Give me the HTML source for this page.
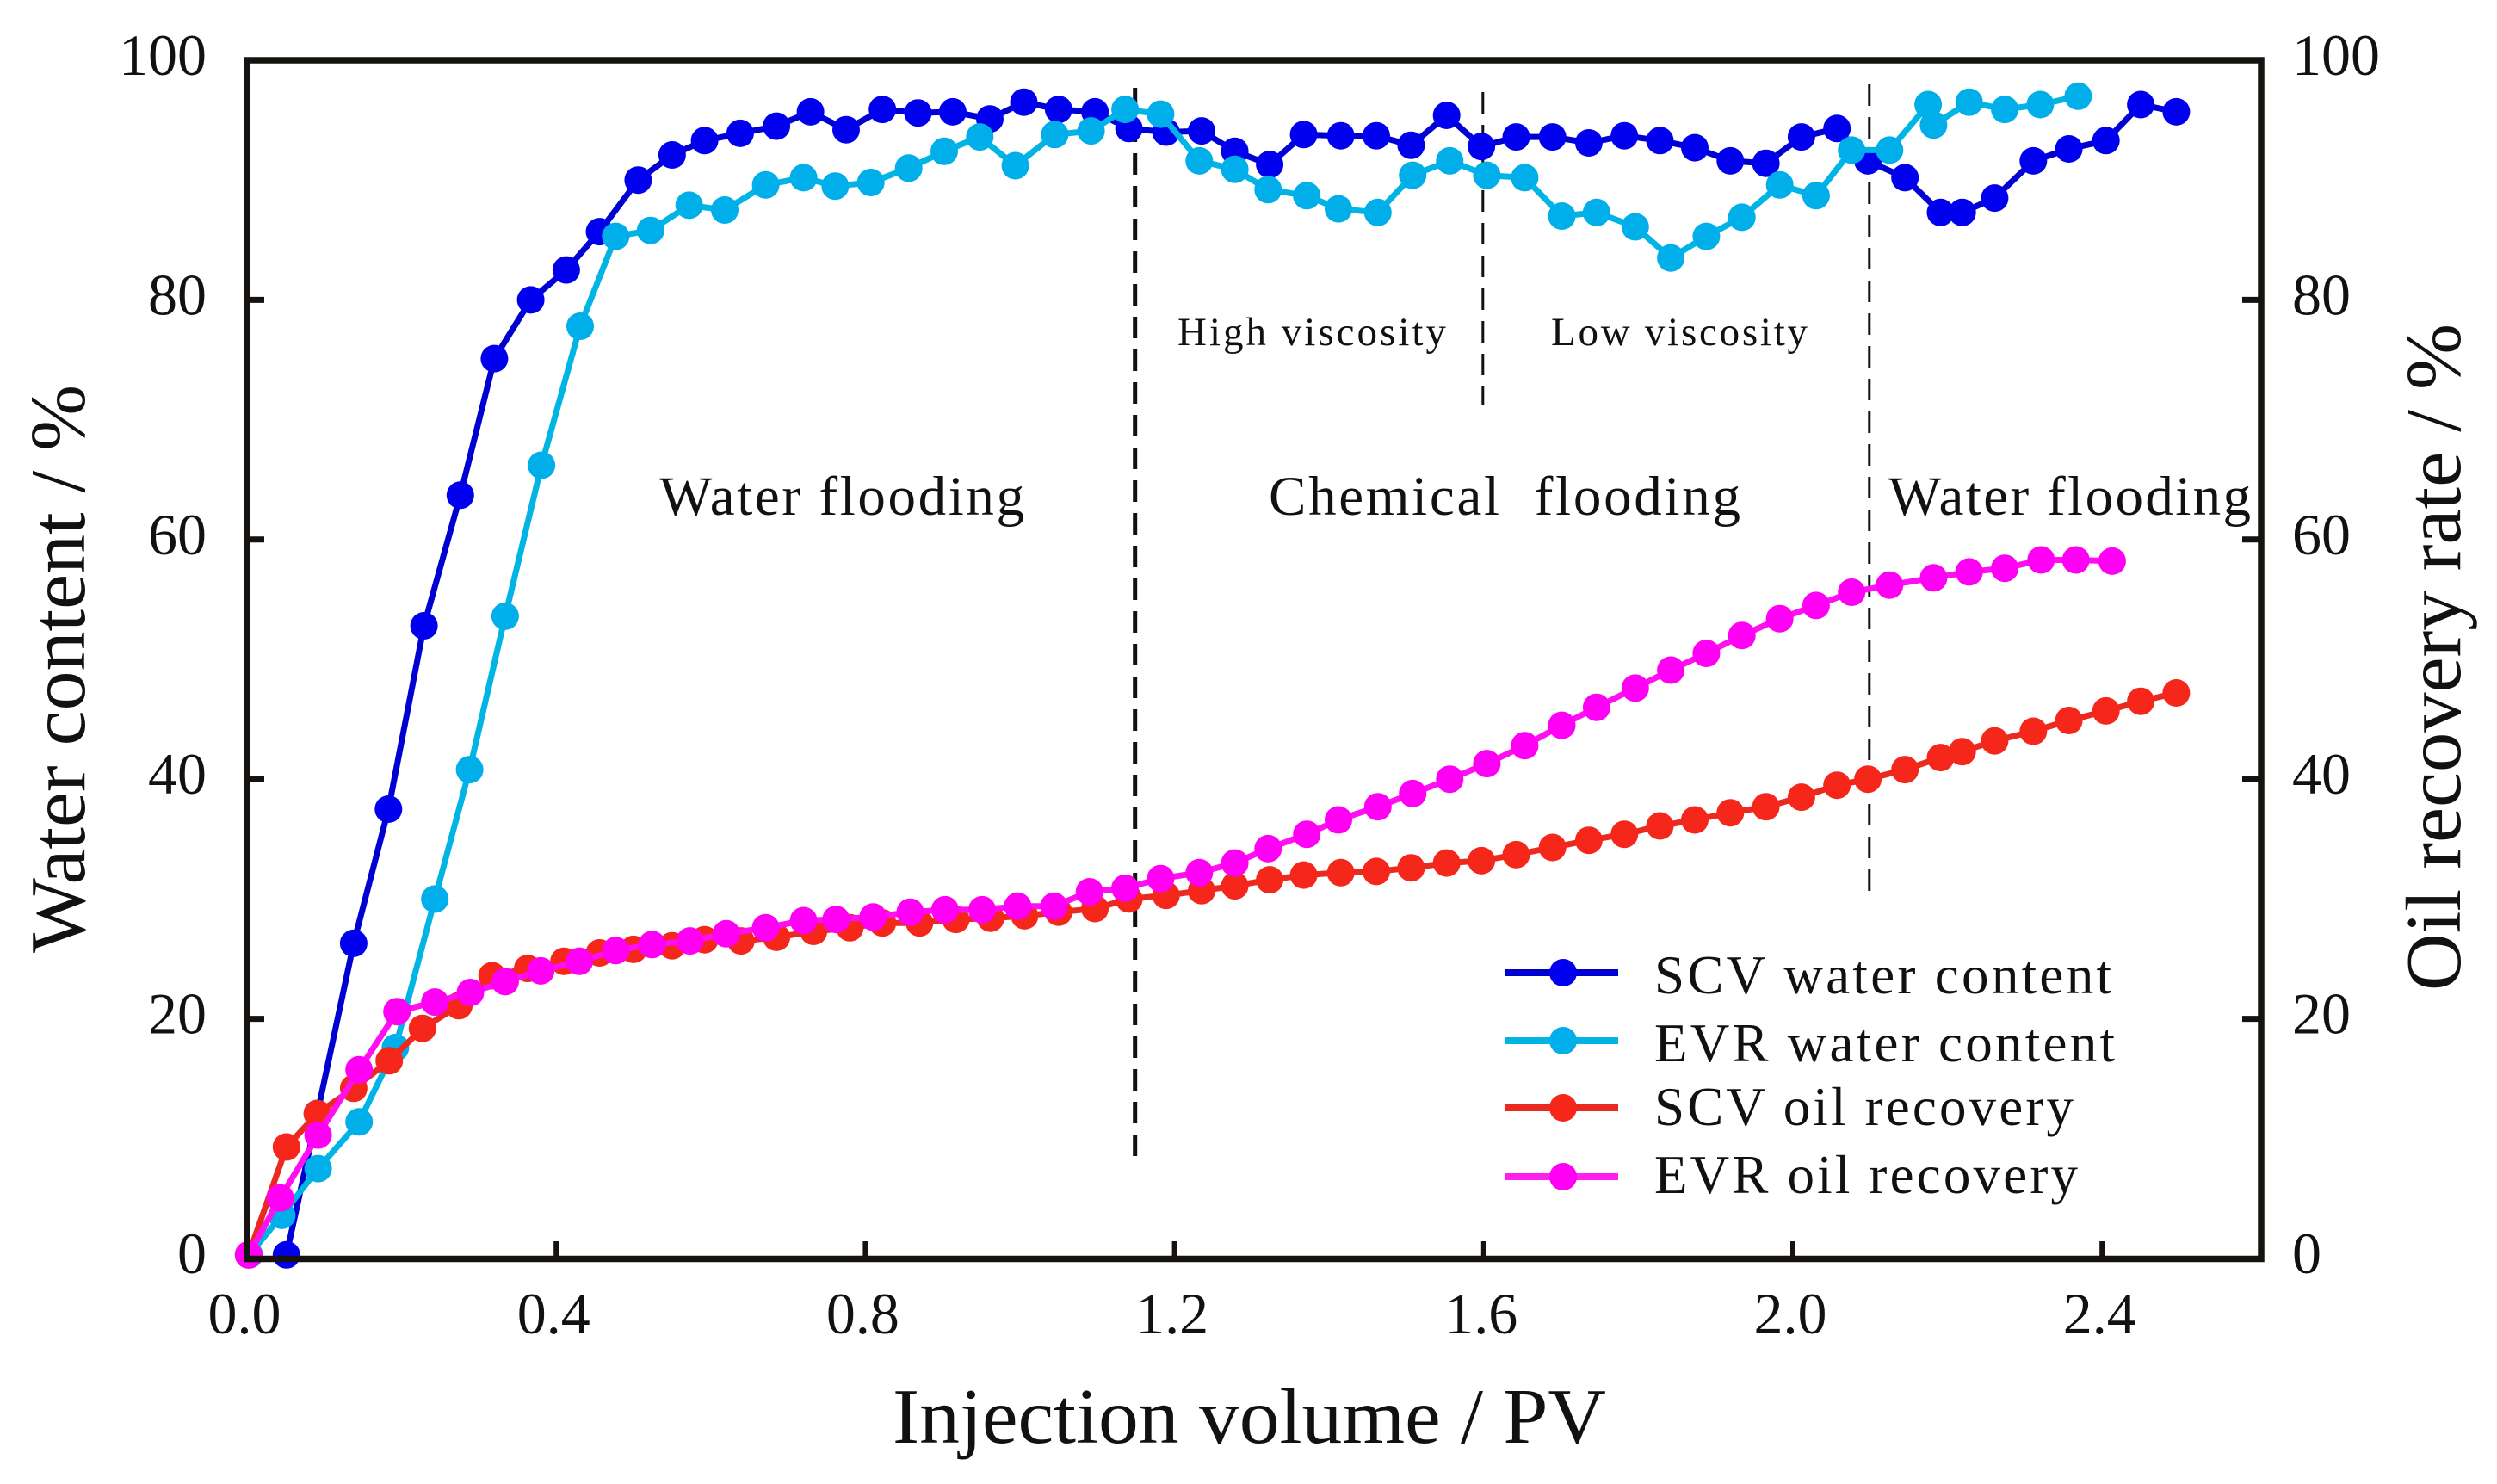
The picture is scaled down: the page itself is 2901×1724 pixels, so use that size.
<!DOCTYPE html>
<html lang="en">
<head>
<meta charset="utf-8">
<title>Water content and oil recovery versus injection volume</title>
<style>
html,body{margin:0;padding:0;background:#fff;}
svg{display:block;}
text{font-family:"Liberation Serif",serif;fill:#111;}
</style>
</head>
<body>
<svg id="chart" xmlns="http://www.w3.org/2000/svg" width="2901" height="1724" viewBox="0 0 2901 1724">
  <rect x="0" y="0" width="2901" height="1724" fill="#fff"/>

  <g id="dividers"></g>
  <g id="series"></g>

  <rect x="287" y="70" width="2340" height="1392.5" fill="none" stroke="#15120f" stroke-width="7.5"/>
  <g id="ticks"></g>

  <text transform="translate(98,1107) rotate(-90)" font-size="91" textLength="660" lengthAdjust="spacingAndGlyphs">Water content / %</text>
  <text transform="translate(2858,1151) rotate(-90)" font-size="91" textLength="775" lengthAdjust="spacingAndGlyphs">Oil recovery rate / %</text>
  <text x="1037" y="1676" font-size="91" textLength="829" lengthAdjust="spacingAndGlyphs">Injection volume / PV</text>

  <text x="766" y="598" font-size="65" textLength="424" lengthAdjust="spacing">Water flooding</text>
  <text x="1474" y="598" font-size="65" textLength="548" lengthAdjust="spacing" xml:space="preserve">Chemical  flooding</text>
  <text x="2194" y="598" font-size="65" textLength="421" lengthAdjust="spacing">Water flooding</text>
  <text x="1368" y="401" font-size="47" textLength="312" lengthAdjust="spacing">High viscosity</text>
  <text x="1802" y="401" font-size="47" textLength="298" lengthAdjust="spacing">Low viscosity</text>

  <g id="legend">
    <g>
      <line x1="1749" x2="1880" y1="1130" y2="1130" stroke="#0000d0" stroke-width="8"/>
      <circle cx="1816" cy="1130" r="16" fill="#0000ee"/>
      <text x="1922" y="1154" font-size="63" textLength="531" lengthAdjust="spacing">SCV water content</text>
    </g>
    <g>
      <line x1="1749" x2="1880" y1="1209" y2="1209" stroke="#00b4e4" stroke-width="8"/>
      <circle cx="1816" cy="1209" r="16" fill="#00aeea"/>
      <text x="1922" y="1233" font-size="63" textLength="535" lengthAdjust="spacing">EVR water content</text>
    </g>
    <g>
      <line x1="1749" x2="1880" y1="1287" y2="1287" stroke="#ea2a20" stroke-width="8"/>
      <circle cx="1816" cy="1287" r="16" fill="#f5261a"/>
      <text x="1922" y="1307" font-size="63" textLength="487" lengthAdjust="spacing">SCV oil recovery</text>
    </g>
    <g>
      <line x1="1749" x2="1880" y1="1367" y2="1367" stroke="#ff20f0" stroke-width="8"/>
      <circle cx="1816" cy="1367" r="16" fill="#ff00f4"/>
      <text x="1922" y="1386" font-size="63" textLength="492" lengthAdjust="spacing">EVR oil recovery</text>
    </g>
  </g>
</svg>

<script>
const xTickLabels = ["0.0", "0.4", "0.8", "1.2", "1.6", "2.0", "2.4"];
const yTickLabels = ["0", "20", "40", "60", "80", "100"];

const scvWaterPv = [0.051,0.091,0.138,0.183,0.229,0.276,0.320,0.367,0.413,0.456,0.506,0.550,0.592,0.638,0.685,0.729,0.775,0.822,0.868,0.913,0.961,1.005,1.050,1.097,1.141,1.189,1.235,1.278,1.323,1.367,1.415,1.461,1.506,1.552,1.597,1.642,1.689,1.736,1.782,1.828,1.873,1.919,1.965,2.011,2.057,2.097,2.145,2.191,2.219,2.261,2.311,2.357,2.405,2.450,2.496];
const scvWater = [0.3,12.1,26.3,37.5,52.8,63.7,75.1,80.0,82.5,85.7,90.0,92.1,93.3,93.9,94.5,95.7,94.2,95.9,95.6,95.7,95.1,96.5,95.9,95.7,94.3,94.0,94.1,92.4,91.3,93.8,93.7,93.7,92.9,95.4,92.8,93.6,93.6,93.1,93.7,93.3,92.7,91.6,91.4,93.6,94.3,91.6,90.2,87.3,87.3,88.5,91.6,92.6,93.3,96.3,95.7];

const evrWaterPv = [0.003,0.045,0.092,0.145,0.192,0.243,0.288,0.334,0.381,0.431,0.477,0.522,0.572,0.618,0.671,0.720,0.761,0.807,0.856,0.902,0.948,0.994,1.045,1.092,1.136,1.182,1.232,1.278,1.321,1.371,1.412,1.463,1.508,1.556,1.604,1.653,1.701,1.746,1.796,1.842,1.888,1.934,1.983,2.030,2.076,2.125,2.175,2.182,2.228,2.274,2.320,2.369];
const evrWater = [0.3,3.6,7.5,11.4,17.6,30.0,40.8,53.6,66.2,77.8,85.3,85.8,87.9,87.5,89.6,90.2,89.5,89.8,91.0,92.4,93.6,91.2,93.8,94.1,95.9,95.5,91.6,90.9,89.2,88.7,87.6,87.3,90.4,91.6,90.4,90.2,87.0,87.3,86.1,83.5,85.3,86.9,89.6,88.7,92.5,92.5,96.3,94.6,96.5,95.9,96.3,97.0];

const scvOilPv = [0.002,0.051,0.091,0.138,0.184,0.227,0.274,0.317,0.363,0.410,0.456,0.500,0.550,0.592,0.639,0.685,0.733,0.780,0.822,0.870,0.917,0.962,1.006,1.050,1.097,1.141,1.189,1.235,1.278,1.323,1.367,1.415,1.461,1.506,1.552,1.597,1.642,1.689,1.736,1.782,1.828,1.873,1.919,1.965,2.011,2.057,2.097,2.145,2.191,2.219,2.261,2.311,2.357,2.405,2.450,2.496];
const scvOil = [0.3,9.3,12.1,14.2,16.5,19.2,21.1,23.6,24.2,24.8,25.5,25.8,26.1,26.6,26.5,26.8,27.3,27.6,28.0,28.0,28.3,28.4,28.6,28.9,29.2,30.0,30.3,30.7,31.1,31.6,32.0,32.2,32.3,32.6,33.0,33.2,33.7,34.3,34.9,35.4,36.1,36.6,37.2,37.7,38.5,39.5,40.0,40.8,41.8,42.3,43.2,44.0,44.9,45.7,46.5,47.2];

const evrOilPv = [0.002,0.043,0.092,0.145,0.194,0.243,0.289,0.334,0.380,0.430,0.477,0.524,0.573,0.620,0.671,0.720,0.762,0.810,0.858,0.903,0.951,0.997,1.044,1.090,1.136,1.182,1.232,1.278,1.321,1.371,1.412,1.463,1.508,1.556,1.604,1.653,1.701,1.746,1.796,1.842,1.888,1.934,1.983,2.030,2.076,2.125,2.182,2.228,2.274,2.321,2.366,2.413];
const evrOil = [0.3,5.05,10.3,15.75,20.6,21.4,22.2,23.1,24.0,24.8,25.7,26.2,26.5,27.1,27.6,28.2,28.3,28.5,28.9,29.1,29.1,29.4,29.4,30.6,30.9,31.7,32.2,33.0,34.2,35.4,36.6,37.7,38.8,40.0,41.3,42.8,44.5,46.0,47.6,49.1,50.5,52.0,53.4,54.5,55.6,56.2,56.8,57.3,57.6,58.3,58.3,58.2];

const dividerPv = [1.15, 1.6, 2.1];

const SVG_NS = "http://www.w3.org/2000/svg";
const xScale = function (v) { return 287 + 898 * v; };
const yScale = function (v) { return 1462 - 13.92 * v; };

function make(tag, parent) {
  const el = document.createElementNS(SVG_NS, tag);
  parent.appendChild(el);
  return el;
}

function drawSeries(name, pv, values, lineColor, markerColor, lineWidth) {
  const layer = document.getElementById("series");
  const group = make("g", layer);
  
  
  const line = make("polyline", group);
  
  
  const pts = pv.map(function (p, i) {
    return xScale(p).toFixed(1) + "," + yScale(values[i]).toFixed(1);
  });
  line.setAttribute("points", pts.join(" "));
  line.setAttribute("fill", "none");
  line.setAttribute("stroke", lineColor);
  line.setAttribute("stroke-width", lineWidth);
  line.setAttribute("stroke-linejoin", "round");
  pv.forEach(function (p, i) {
    const dot = make("circle", group);
    
    
    dot.setAttribute("cx", xScale(p).toFixed(1));
    dot.setAttribute("cy", yScale(values[i]).toFixed(1));
    dot.setAttribute("r", "16");
    dot.setAttribute("fill", markerColor);
  });
}

function drawDividers() {
  const layer = document.getElementById("dividers");
  const tops = [102, 107, 98];
  const bottoms = [1348, 470, 1039];
  const widths = [5, 3, 3];
  dividerPv.forEach(function (p, i) {
    const l = make("line", layer);
    
    
    l.setAttribute("x1", xScale(p) - 1);
    l.setAttribute("x2", xScale(p) - 1);
    l.setAttribute("y1", tops[i]);
    l.setAttribute("y2", bottoms[i]);
    l.setAttribute("stroke", "#111");
    l.setAttribute("stroke-width", widths[i]);
    l.setAttribute("stroke-dasharray", "25 13");
  });
}

function drawTicks() {
  const layer = document.getElementById("ticks");
  xTickLabels.forEach(function (label) {
    const v = parseFloat(label);
    const px = xScale(v);
    if (v > 0) {
      const t = make("line", layer);
      
      
      t.setAttribute("x1", px);
      t.setAttribute("x2", px);
      t.setAttribute("y1", 1442);
      t.setAttribute("y2", 1462);
      t.setAttribute("stroke", "#15120f");
      t.setAttribute("stroke-width", 6);
    }
    const txt = make("text", layer);
    
    
    txt.setAttribute("x", px - 3);
    txt.setAttribute("y", 1549);
    txt.setAttribute("font-size", 68);
    txt.setAttribute("text-anchor", "middle");
    txt.textContent = label;
  });
  yTickLabels.forEach(function (label) {
    const v = parseFloat(label);
    const py = yScale(v);
    if (v > 0 && v < 100) {
      const tl = make("line", layer);
      
      
      tl.setAttribute("x1", 287);
      tl.setAttribute("x2", 307);
      tl.setAttribute("y1", py);
      tl.setAttribute("y2", py);
      tl.setAttribute("stroke", "#15120f");
      tl.setAttribute("stroke-width", 7);
      const tr = make("line", layer);
      
      
      tr.setAttribute("x1", 2605);
      tr.setAttribute("x2", 2627);
      tr.setAttribute("y1", py);
      tr.setAttribute("y2", py);
      tr.setAttribute("stroke", "#15120f");
      tr.setAttribute("stroke-width", 7);
    }
    const left = make("text", layer);
    
    
    left.setAttribute("x", 240);
    left.setAttribute("y", py + 17);
    left.setAttribute("font-size", 68);
    left.setAttribute("text-anchor", "end");
    left.textContent = label;
    const right = make("text", layer);
    
    
    right.setAttribute("x", 2663);
    right.setAttribute("y", py + 17);
    right.setAttribute("font-size", 68);
    right.setAttribute("text-anchor", "start");
    right.textContent = label;
  });
}

drawDividers();
drawSeries("scv-water-content", scvWaterPv, scvWater, "#0000d0", "#0000ee", 7);
drawSeries("evr-water-content", evrWaterPv, evrWater, "#00b4e4", "#00aeea", 7);
drawSeries("scv-oil-recovery", scvOilPv, scvOil, "#ea2a20", "#f5261a", 7);
drawSeries("evr-oil-recovery", evrOilPv, evrOil, "#ff10f0", "#ff00f4", 7);
drawTicks();
</script>
</body>
</html>
